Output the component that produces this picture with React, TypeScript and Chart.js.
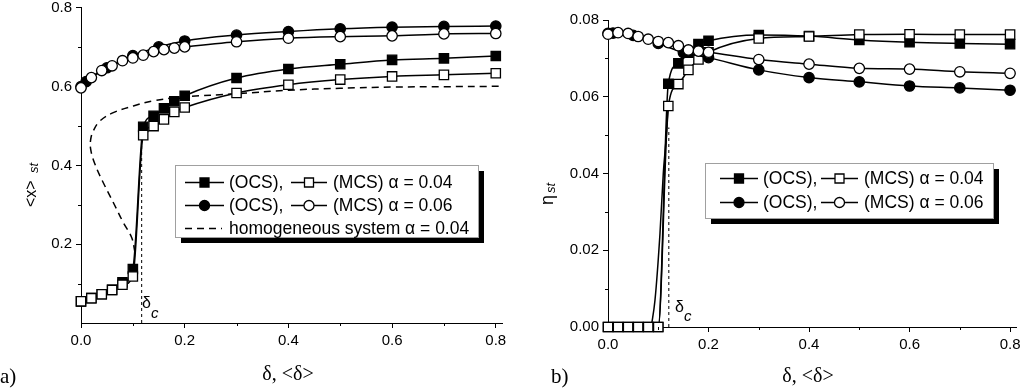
import React, { useEffect, useRef } from 'react';
import { Chart, registerables } from 'chart.js';

Chart.register(...registerables);

// ---------- data ----------
const deltaA = [0, 0.02, 0.04, 0.06, 0.08, 0.1, 0.12, 0.14, 0.16, 0.18, 0.2, 0.3, 0.4, 0.5, 0.6, 0.7, 0.8];
const deltaOcs06 = [0, 0.01, 0.05, 0.1, 0.15, 0.2, 0.3, 0.4, 0.5, 0.6, 0.7, 0.8];

// panel a) <x>_st
const xOcs04 = [0.055, 0.063, 0.073, 0.084, 0.103, 0.137, 0.498, 0.526, 0.545, 0.563, 0.577, 0.622, 0.645, 0.657, 0.668, 0.672, 0.678];
const xMcs04 = [0.055, 0.063, 0.073, 0.084, 0.097, 0.118, 0.477, 0.5, 0.517, 0.536, 0.547, 0.584, 0.605, 0.618, 0.626, 0.63, 0.634];
const xOcs06 = [0.6, 0.613, 0.648, 0.679, 0.701, 0.716, 0.731, 0.74, 0.747, 0.751, 0.753, 0.754];
const xMcs06 = [0.597, 0.623, 0.641, 0.653, 0.666, 0.673, 0.68, 0.689, 0.694, 0.698, 0.701, 0.714, 0.723, 0.727, 0.729, 0.734, 0.735];
const homDelta = [0.104, 0.0977, 0.0816, 0.0623, 0.043, 0.027, 0.0187, 0.0187, 0.0238, 0.0366, 0.0623, 0.101, 0.139, 0.2, 0.3, 0.4, 0.5, 0.6, 0.7, 0.81];
const homX = [0.18, 0.217, 0.255, 0.306, 0.356, 0.403, 0.441, 0.466, 0.488, 0.513, 0.534, 0.551, 0.564, 0.574, 0.582, 0.591, 0.596, 0.599, 0.6, 0.601];
const deltaCLeft = [0.117, 0.117];
const deltaCLeftY = [0, 0.47];

// panel b) eta_st
const etaOcs04 = [0, 0, 0, 0, 0, 0, 0.0634, 0.0687, 0.0715, 0.0737, 0.0746, 0.0761, 0.0758, 0.0748, 0.0742, 0.0739, 0.0737];
const etaMcs04 = [0, 0, 0, 0, 0, 0, 0.0576, 0.0633, 0.067, 0.0697, 0.0716, 0.0752, 0.0757, 0.0762, 0.0763, 0.0762, 0.0762];
const etaOcs06 = [0.0765, 0.0766, 0.076, 0.0739, 0.0715, 0.0702, 0.067, 0.065, 0.0639, 0.0628, 0.0623, 0.0617];
const etaMcs06 = [0.0763, 0.0767, 0.0765, 0.0757, 0.075, 0.0744, 0.0741, 0.0733, 0.0722, 0.0719, 0.0716, 0.0697, 0.0685, 0.0674, 0.0672, 0.0665, 0.0661];
const fitDelta = [0.086, 0.0935, 0.1034, 0.11, 0.1165, 0.12];
const fitEta = [0, 0.007, 0.0243, 0.04, 0.0504, 0.0576];
const deltaCRight = [0.121, 0.121];
const deltaCRightY = [0, 0.052];

// ticks
const xTickValues = [0, 0.1, 0.2, 0.3, 0.4, 0.5, 0.6, 0.7, 0.8];
const xTickLabels = ['0.0', '', '0.2', '', '0.4', '', '0.6', '', '0.8'];
const yLeftTickValues = [0, 0.1, 0.2, 0.3, 0.4, 0.5, 0.6, 0.7, 0.8];
const yLeftTickLabels = ['', '', '0.2', '', '0.4', '', '0.6', '', '0.8'];
const yRightTickValues = [0, 0.01, 0.02, 0.03, 0.04, 0.05, 0.06, 0.07, 0.08];
const yRightTickLabels = ['0.00', '', '0.02', '', '0.04', '', '0.06', '', '0.08'];

const SANS = "'Liberation Sans', Arial, Helvetica, sans-serif";
const SERIF = "'Liberation Serif', 'Times New Roman', serif";

const pts = (xs: number[], ys: number[]) => xs.map((x, i) => ({ x, y: ys[i] }));

type Marker = 'rectFilled' | 'rectOpen' | 'circleFilled' | 'circleOpen' | 'dash';

function drawMarker(ctx: CanvasRenderingContext2D, kind: Marker, x: number, y: number) {
  ctx.save();
  ctx.lineWidth = 1.3;
  ctx.strokeStyle = '#000';
  ctx.fillStyle = kind.endsWith('Filled') ? '#000' : '#fff';
  if (kind.startsWith('rect')) {
    const s = 4.5;
    ctx.beginPath();
    ctx.rect(x - s, y - s, 2 * s, 2 * s);
    ctx.fill();
    ctx.stroke();
  } else if (kind.startsWith('circle')) {
    ctx.beginPath();
    ctx.arc(x, y, 5, 0, Math.PI * 2);
    ctx.fill();
    ctx.stroke();
  }
  ctx.restore();
}

interface LegendItem { x0: number; x1: number; marker: Marker; text: string; tx: number; }
interface LegendCfg { box: [number, number, number, number]; rows: { y: number; items: LegendItem[] }[]; }

function legendPlugin(cfg: LegendCfg) {
  return {
    id: 'customLegend',
    afterDraw(chart: any) {
      const ctx: CanvasRenderingContext2D = chart.ctx;
      const [l, t, r, b] = cfg.box;
      ctx.save();
      ctx.fillStyle = '#000';
      ctx.fillRect(l + 6, t + 6, r - l, b - t);
      ctx.fillStyle = '#fff';
      ctx.fillRect(l, t, r - l, b - t);
      ctx.strokeStyle = '#a0a0a0';
      ctx.lineWidth = 1;
      ctx.strokeRect(l + 0.5, t + 0.5, r - l, b - t);
      ctx.font = `17.5px ${SANS}`;
      ctx.textBaseline = 'middle';
      ctx.fillStyle = '#000';
      for (const row of cfg.rows) {
        for (const it of row.items) {
          ctx.strokeStyle = '#000';
          ctx.lineWidth = 1.5;
          ctx.beginPath();
          if (it.marker === 'dash') ctx.setLineDash([7, 5]);
          else ctx.setLineDash([]);
          ctx.moveTo(it.x0, row.y);
          ctx.lineTo(it.x1, row.y);
          ctx.stroke();
          ctx.setLineDash([]);
          if (it.marker !== 'dash') drawMarker(ctx, it.marker, (it.x0 + it.x1) / 2, row.y);
          ctx.fillStyle = '#000';
          ctx.fillText(it.text, it.tx, row.y + 1);
        }
      }
      ctx.restore();
    },
  };
}

interface Label { text: string; x: number; y: number; font: string; rotate?: boolean; align?: CanvasTextAlign; }

function textPlugin(labels: Label[]) {
  return {
    id: 'customText',
    afterDraw(chart: any) {
      const ctx: CanvasRenderingContext2D = chart.ctx;
      ctx.save();
      ctx.fillStyle = '#000';
      ctx.textBaseline = 'alphabetic';
      for (const lb of labels) {
        ctx.save();
        ctx.font = lb.font;
        ctx.textAlign = lb.align || 'left';
        ctx.translate(lb.x, lb.y);
        if (lb.rotate) ctx.rotate(-Math.PI / 2);
        ctx.fillText(lb.text, 0, 0);
        ctx.restore();
      }
      ctx.restore();
    },
  };
}

function minorTickPlugin(xMinor: number[], yMinor: number[]) {
  return {
    id: 'minorTicks',
    afterDraw(chart: any) {
      const ctx: CanvasRenderingContext2D = chart.ctx;
      const xs = chart.scales.x;
      const ys = chart.scales.y;
      const a = chart.chartArea;
      ctx.save();
      ctx.strokeStyle = '#000';
      ctx.lineWidth = 1;
      ctx.beginPath();
      for (const v of xMinor) {
        const px = Math.round(xs.getPixelForValue(v)) + 0.5;
        ctx.moveTo(px, a.bottom);
        ctx.lineTo(px, a.bottom + 3);
      }
      for (const v of yMinor) {
        const py = Math.round(ys.getPixelForValue(v)) + 0.5;
        ctx.moveTo(a.left, py);
        ctx.lineTo(a.left - 3, py);
      }
      ctx.stroke();
      ctx.restore();
    },
  };
}

function series(data: any[], filled: boolean, style: 'rect' | 'circle') {
  return {
    data,
    clip: false,
    borderColor: '#000',
    borderWidth: 1.5,
    pointStyle: style,
    pointRadius: style === 'rect' ? 6.6 : 5.2,
    pointBorderWidth: 1.3,
    pointBorderColor: '#000',
    pointBackgroundColor: filled ? '#000' : '#fff',
    cubicInterpolationMode: 'monotone',
    fill: false,
  };
}

function buildScales(yVals: number[], yLabels: string[], yMax: number, yWidth: number, xHeight: number) {
  const majorX = (v: number) => xTickLabels[xTickValues.findIndex((t) => Math.abs(t - v) < 1e-9)] !== '';
  const majorY = (v: number) => yLabels[yVals.findIndex((t) => Math.abs(t - v) < 1e-9)] !== '';
  return {
    x: {
      type: 'linear',
      min: 0,
      max: 0.812,
      afterBuildTicks: (s: any) => { s.ticks = xTickValues.map((v) => ({ value: v })); },
      afterFit: (s: any) => { s.height = xHeight; s.paddingLeft = 0; s.paddingRight = 0; },
      ticks: {
        autoSkip: false,
        maxRotation: 0,
        padding: 4,
        color: '#000',
        font: { family: SANS, size: 15 },
        callback: (v: number) => xTickLabels[xTickValues.findIndex((t) => Math.abs(t - v) < 1e-9)] ?? '',
      },
      grid: {
        drawOnChartArea: false,
        drawTicks: true,
        tickLength: 5,
        tickColor: (c: any) => (c.tick && majorX(c.tick.value) ? '#000' : 'rgba(0,0,0,0)'),
      },
      border: { display: true, color: '#000', width: 1 },
    },
    y: {
      type: 'linear',
      min: 0,
      max: yMax,
      afterBuildTicks: (s: any) => { s.ticks = yVals.map((v) => ({ value: v })); },
      afterFit: (s: any) => { s.width = yWidth; s.paddingTop = 0; s.paddingBottom = 0; },
      ticks: {
        autoSkip: false,
        padding: 4,
        color: '#000',
        font: { family: SANS, size: 15 },
        callback: (v: number) => yLabels[yVals.findIndex((t) => Math.abs(t - v) < 1e-9)] ?? '',
      },
      grid: {
        drawOnChartArea: false,
        drawTicks: true,
        tickLength: 5,
        tickColor: (c: any) => (c.tick && majorY(c.tick.value) ? '#000' : 'rgba(0,0,0,0)'),
      },
      border: { display: true, color: '#000', width: 1 },
    },
  };
}

function makeLeft(canvas: HTMLCanvasElement) {
  const datasets: any[] = [
    series(pts(deltaA, xMcs06), false, 'circle'),
    series(pts(deltaOcs06, xOcs06), true, 'circle'),
    series(pts(deltaA, xMcs04), false, 'rect'),
    series(pts(deltaA, xOcs04), true, 'rect'),
    {
      data: pts(homDelta, homX), borderColor: '#000', borderWidth: 1.5, borderDash: [7, 5],
      pointRadius: 0, tension: 0.4, fill: false,
    },
    {
      data: pts(deltaCLeft, deltaCLeftY), borderColor: '#000', borderWidth: 1, borderDash: [3, 3],
      pointRadius: 0, tension: 0, fill: false,
    },
  ];
  return new Chart(canvas, {
    type: 'line',
    data: { datasets },
    options: {
      animation: false,
      responsive: true,
      maintainAspectRatio: false,
      layout: { padding: { left: 0, top: 7, right: 10, bottom: 0 } },
      plugins: { legend: { display: false }, tooltip: { enabled: false } },
      scales: buildScales(yLeftTickValues, yLeftTickLabels, 0.8, 81, 68) as any,
    },
    plugins: [
      minorTickPlugin([0.1, 0.3, 0.5, 0.7], [0.1, 0.3, 0.5, 0.7]),
      legendPlugin({
        box: [175, 165, 478, 237],
        rows: [
          { y: 182.5, items: [
            { x0: 185, x1: 224, marker: 'rectFilled', text: '(OCS),', tx: 229 },
            { x0: 291, x1: 327, marker: 'rectOpen', text: '(MCS) \u03b1 = 0.04', tx: 333 },
          ] },
          { y: 205.5, items: [
            { x0: 185, x1: 224, marker: 'circleFilled', text: '(OCS),', tx: 229 },
            { x0: 291, x1: 327, marker: 'circleOpen', text: '(MCS) \u03b1 = 0.06', tx: 333 },
          ] },
          { y: 228.5, items: [
            { x0: 185, x1: 222, marker: 'dash', text: 'homogeneous system \u03b1 = 0.04', tx: 229 },
          ] },
        ],
      }),
      textPlugin([
        { text: '<x>', x: 36, y: 207, font: `16px ${SANS}`, rotate: true },
        { text: 'st', x: 38, y: 173, font: `italic 13px ${SANS}`, rotate: true },
        { text: '\u03b4, <\u03b4>', x: 288, y: 380, font: `20px ${SERIF}`, align: 'center' },
        { text: 'a)', x: 0, y: 383, font: `21px ${SERIF}` },
        { text: '\u03b4', x: 142, y: 308, font: `16px ${SANS}` },
        { text: 'c', x: 151, y: 318, font: `italic 15px ${SANS}` },
      ]),
    ],
  } as any);
}

function makeRight(canvas: HTMLCanvasElement) {
  const datasets: any[] = [
    series(pts(deltaA, etaMcs06), false, 'circle'),
    series(pts(deltaOcs06, etaOcs06), true, 'circle'),
    series(pts(deltaA, etaMcs04), false, 'rect'),
    series(pts(deltaA, etaOcs04), true, 'rect'),
    {
      data: pts(fitDelta, fitEta), borderColor: '#000', borderWidth: 1.5,
      pointRadius: 0, cubicInterpolationMode: 'monotone', fill: false,
    },
    {
      data: pts(deltaCRight, deltaCRightY), borderColor: '#000', borderWidth: 1, borderDash: [3, 3],
      pointRadius: 0, tension: 0, fill: false,
    },
  ];
  return new Chart(canvas, {
    type: 'line',
    data: { datasets },
    options: {
      animation: false,
      responsive: true,
      maintainAspectRatio: false,
      layout: { padding: { left: 0, top: 20, right: 5, bottom: 0 } },
      plugins: { legend: { display: false }, tooltip: { enabled: false } },
      scales: buildScales(yRightTickValues, yRightTickLabels, 0.08, 96, 64) as any,
    },
    plugins: [
      minorTickPlugin([0.1, 0.3, 0.5, 0.7], [0.01, 0.03, 0.05, 0.07]),
      legendPlugin({
        box: [193, 163, 481, 218],
        rows: [
          { y: 178.5, items: [
            { x0: 208, x1: 246, marker: 'rectFilled', text: '(OCS),', tx: 251 },
            { x0: 309, x1: 346, marker: 'rectOpen', text: '(MCS) \u03b1 = 0.04', tx: 352 },
          ] },
          { y: 202.5, items: [
            { x0: 208, x1: 246, marker: 'circleFilled', text: '(OCS),', tx: 251 },
            { x0: 309, x1: 346, marker: 'circleOpen', text: '(MCS) \u03b1 = 0.06', tx: 352 },
          ] },
        ],
      }),
      textPlugin([
        { text: '\u03b7', x: 41, y: 205, font: `18px ${SANS}`, rotate: true },
        { text: 'st', x: 43, y: 193, font: `italic 13px ${SANS}`, rotate: true },
        { text: '\u03b4, <\u03b4>', x: 296, y: 382, font: `20px ${SERIF}`, align: 'center' },
        { text: 'b)', x: 39, y: 383, font: `21px ${SERIF}` },
        { text: '\u03b4', x: 163, y: 312, font: `16px ${SANS}` },
        { text: 'c', x: 172, y: 321, font: `italic 15px ${SANS}` },
      ]),
    ],
  } as any);
}

function Panel({ left, make }: { left: number; make: (c: HTMLCanvasElement) => Chart }) {
  const ref = useRef<HTMLCanvasElement | null>(null);
  useEffect(() => {
    if (!ref.current) return;
    const chart = make(ref.current);
    return () => chart.destroy();
  }, [make]);
  return (
    <div style={{ position: 'absolute', left, top: 0, width: 512, height: 391 }}>
      <canvas ref={ref} />
    </div>
  );
}

export default function App() {
  return (
    <div style={{ position: 'absolute', left: 0, top: 0, width: 1024, height: 391, background: '#fff', overflow: 'hidden' }}>
      <Panel left={0} make={makeLeft} />
      <Panel left={512} make={makeRight} />
    </div>
  );
}
